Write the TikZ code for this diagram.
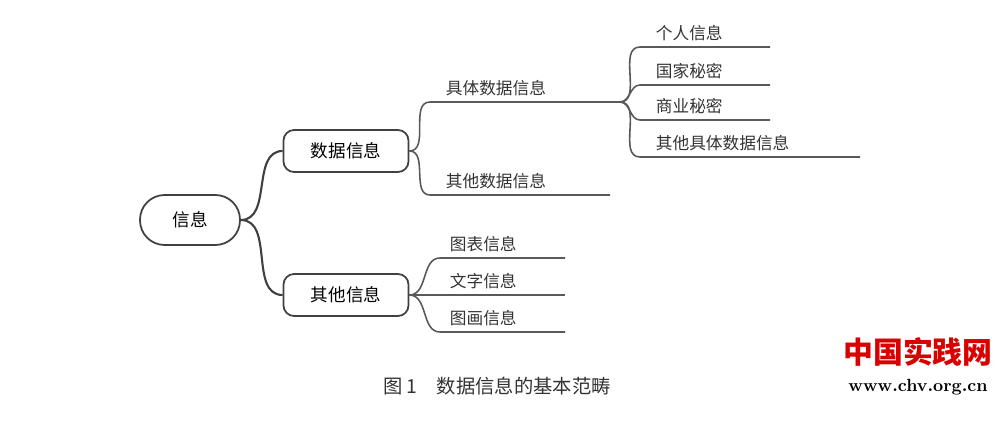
\documentclass[tikz,border=0pt]{standalone}
\usepackage{fontspec}
\newfontfamily\cjk{Noto Sans CJK SC}
\usetikzlibrary{positioning}
\tikzset{
  mainbox/.style={draw=black!75,line width=1pt,rounded corners=6pt,minimum width=2.5cm,minimum height=0.84cm,font=\cjk\fontsize{10}{12}\selectfont},
  rootbox/.style={draw=black!75,line width=1pt,rounded corners=14pt,minimum width=2cm,minimum height=1cm,font=\cjk\fontsize{10}{12}\selectfont},
  leaf/.style={anchor=south west,inner sep=2pt,font=\cjk\fontsize{9.5}{11}\selectfont,text=black!80},
  link/.style={draw=black!65,line width=0.9pt},
  branch/.style={draw=black!75,line width=1.2pt}
}
\begin{document}
\begin{tikzpicture}[x=0.02cm,y=-0.02cm]
  \useasboundingbox (0,0) rectangle (1000,422);
  % boxes
  \node[rootbox] (root) at (190,220) {信息};
  \node[mainbox] (data) at (346,151) {数据信息};
  \node[mainbox] (other) at (346,295) {其他信息};
  \draw[branch] (root.east) to[out=0,in=180] (data.west);
  \draw[branch] (root.east) to[out=0,in=180] (other.west);
  % second level
  \coordinate (c1) at (430,102); \coordinate (c1e) at (620,102);
  \coordinate (c2) at (430,195); \coordinate (c2e) at (610,195);
  \draw[link] (data.east) to[out=0,in=180] (c1) -- (c1e);
  \draw[link] (data.east) to[out=0,in=180] (c2) -- (c2e);
  \node[leaf] (spec) at (442,100) {具体数据信息};
  \node[leaf] (odat) at (442,193) {其他数据信息};
  % third level
  \foreach \y/\e/\t/\n in {47/770/个人信息/p1, 85/770/国家秘密/p2, 120/770/商业秘密/p3, 157/860/其他具体数据信息/p4}{
    \coordinate (\n) at (640,\y); \coordinate (\n e) at (\e,\y);
    \draw[link] (c1e) to[out=0,in=180] (\n) -- (\n e);
    \node[leaf] (\n t) at (652,\y-2) {\t};
  }
  \foreach \y/\t/\n in {258/图表信息/q1, 295/文字信息/q2, 332/图画信息/q3}{
    \coordinate (\n) at (440,\y); \coordinate (\n e) at (565,\y);
    \draw[link] (other.east) to[out=0,in=180] (\n) -- (\n e);
    \node[leaf] (\n t) at (446,\y-2) {\t};
  }
  % caption and mark
  \node[font=\cjk\fontsize{11}{13}\selectfont,text=black!80] (cap) at (497,386) {图 1\quad 数据信息的基本范畴};
  \node[font=\cjk\bfseries\fontsize{17}{19}\selectfont,text=red!85!black] (wm) at (918,352) {中国实践网};
  \node[font=\bfseries\fontsize{10}{12}\selectfont,below=0pt of wm] (url) {www.chv.org.cn};
\end{tikzpicture}
\end{document}
